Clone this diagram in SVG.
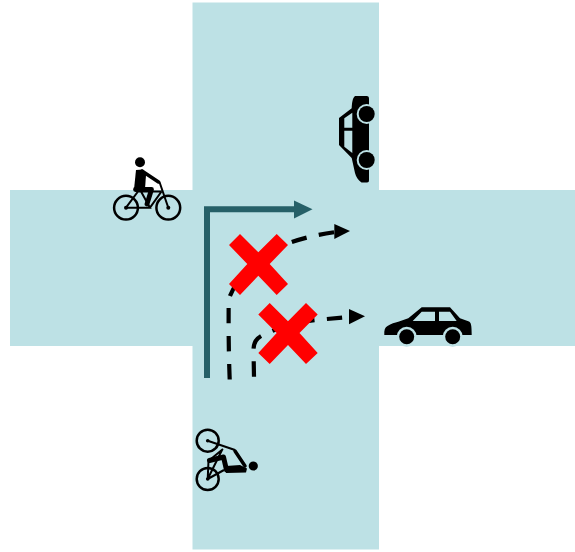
<svg xmlns="http://www.w3.org/2000/svg" width="575" height="552" viewBox="0 0 575 552">
<style>
.road{fill:#bde1e5}
.x{fill:#ff0000}
.dash{fill:none;stroke:#000;stroke-width:4.200;stroke-dasharray:15.500 12.500}
.wheel{fill:none;stroke:#000;stroke-width:2.500}
.frame{fill:none;stroke:#000;stroke-width:2}
.body{fill:none;stroke:#000;stroke-linecap:round;stroke-linejoin:round}
</style>
<g id="roads">
<rect class="road" x="10" y="190" width="565" height="156"/>
<rect class="road" x="192.500" y="2.500" width="186.500" height="547"/>
</g>
<g id="connectors">
<path d="M207 378V209.300H296" fill="none" stroke="#266068" stroke-width="6"/>
<path d="M294 200.500L312.500 209.300L294 218.500Z" fill="#266068"/>
<path class="dash" d="M229.700 379.500C228.500 350 228.500 320 228.700 300C232 285 255 255 291 242.300C305 237.500 318 234.500 336 232"/>
<path d="M334.300 224L350 231L334.300 239Z" fill="#000"/>
<path class="dash" d="M254 376.700L253.500 350C253.500 342 257 338 262 335.500C275 329 295 322 316 320C327 319 338 318 351 316.800"/>
<path d="M349 309L365 316.300L349 324.300Z" fill="#000"/>
</g>
<g id="cross-1"><path class="x" d="M240 234L258.300 252.300L276.700 234L288 245L269.700 264L288 284L276.700 295L258.300 275.700L240 295L229 284L247.300 264L229 245Z"/></g>
<g id="cross-2"><path class="x" d="M269.700 303L288 321.300L306 303L317.700 314.500L299.500 333L317.700 353L306 364L288 345L269.700 364L258.300 353L276.700 333L258.300 314.500Z"/></g>
<g id="cyclist-left">
<circle class="wheel" cx="126" cy="207.700" r="11.900"/>
<circle class="wheel" cx="168.300" cy="207.700" r="11.900"/>
<circle cx="126" cy="207.700" r="2"/>
<circle cx="168.300" cy="207.700" r="2"/>
<path class="frame" d="M126 207.700L138 191.500H161.500M141 191.500L150 207.700H126M159.500 182L168.300 207.700M150 207.700L161.500 191.500"/>
<circle cx="140" cy="162.300" r="5"/>
<path fill="#000" d="M136 170L143 169.500L146 175L145 189L134 189.500Z"/>
<path class="body" stroke-width="3.500" d="M142 171L158.500 182"/>
<path class="body" stroke-width="4.800" d="M135.500 189.500H151.500L147 204"/>
</g>
<g id="car-top">
<path fill="#000" d="M355 96H366.500C368.500 96 369 97 369 99V180C369 181.700 368.500 182.500 367 182.500H361.500C358 180 356 177 355 173L351.700 158L339 145V118L351.700 108.300C352 103 352.500 98 355 96Z"/>
<path fill="#bde1e5" d="M344.300 118.300L352.300 112.700V127.700H344.300Z M344.300 130.700H352.300V153L344.300 146.700Z"/>
<circle cx="366.700" cy="114" r="10" fill="#bde1e5"/>
<circle cx="366.700" cy="160" r="10" fill="#bde1e5"/>
<circle cx="366.700" cy="114" r="8"/>
<circle cx="366.700" cy="160" r="8"/>
</g>
<g id="car-right">
<path fill="#000" d="M384.300 335C384 330 385 327 387.500 326C391 323.500 395 322.500 398.300 321.700L408.300 318.300L421.700 307.300H450L460 318.300L469 321.500C471 322.500 471.700 325 471.700 335Z"/>
<path fill="#bde1e5" d="M412.700 321L421.700 311.700H435V321Z M439 311.700H450L456.700 321H439Z"/>
<circle cx="406.700" cy="336.700" r="10" fill="#bde1e5"/>
<circle cx="452.700" cy="336.700" r="10" fill="#bde1e5"/>
<circle cx="406.700" cy="336.700" r="7.500"/>
<circle cx="452.700" cy="336.700" r="7.500"/>
</g>
<g id="cyclist-bottom">
<circle class="wheel" cx="207.700" cy="440.700" r="11"/>
<circle class="wheel" cx="207.700" cy="479" r="11"/>
<circle cx="207.700" cy="440.700" r="1.800"/>
<circle cx="207.700" cy="479" r="1.800"/>
<path class="frame" d="M207.700 440.700L235 450M207.700 479L208.500 461L223 449M207.700 479L224 470M207.700 479L222 450"/>
<circle cx="253.300" cy="466" r="4.600"/>
<path fill="#000" d="M226 466L240 465L247 468.500L246 472.500L226 473Z"/>
<path class="body" stroke-width="3.500" d="M235 451L245 466"/>
<path class="body" stroke-width="5" d="M226.500 470L223.500 457L209.500 460.500"/>
</g>
</svg>
